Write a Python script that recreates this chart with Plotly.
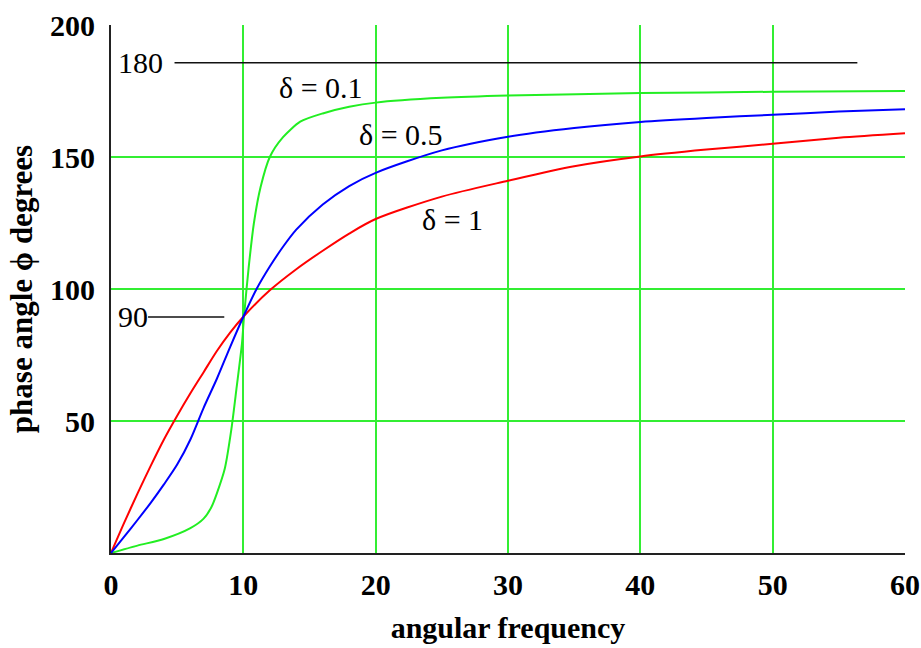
import plotly.graph_objects as go

# ---- data ----
green_x = [0, 2, 4, 6, 7, 7.6, 8.0, 8.6, 9.1, 9.5, 9.9, 10.05, 10.4, 10.8, 11.3, 12.0,
           13.0, 14.3, 16, 18, 20, 25, 30, 40, 50, 60]
green_y = [0, 2.8, 5.3, 9.4, 13, 17.5, 22.6, 32, 47, 63, 79.5, 89.5, 108, 125, 138.5, 150,
           157.5, 163.4, 166.5, 169, 170.6, 172.4, 173.3, 174.2, 174.7, 175.0]

blue_x = [0, 1, 2, 3, 4, 5, 6, 7, 8, 9, 10, 11, 12, 13, 14, 16, 18, 20, 25, 30, 35, 40,
          45, 50, 55, 60]
blue_y = [0, 6.2, 12.5, 19, 26, 33.5, 43, 55, 66, 78, 89.5, 100, 108.5, 116, 122.5, 132,
          139, 144, 152.5, 157.7, 161, 163.3, 164.8, 166, 167.2, 168.1]

red_x = [0, 1, 2, 3, 4, 5, 6, 7, 8, 9, 10, 12, 14, 16, 18, 20, 25, 30, 35, 40, 45, 50,
         55, 60]
red_y = [0, 11.5, 22.5, 33, 43, 52, 60.5, 68.5, 76.5, 83.5, 89.5, 99.5, 107.5, 114.5, 121,
         126.5, 135, 141, 146.5, 150.2, 152.8, 155, 157.3, 159]

ref180_x = [4.8, 56.4]
ref180_y = [185.7, 185.7]
ref90_x = [2.8, 8.56]
ref90_y = [89.4, 89.4]

x_ticks = [0, 10, 20, 30, 40, 50, 60]
y_ticks = [50, 100, 150, 200]

labels = ["180", "90", "δ = 0.1", "δ = 0.5", "δ = 1"]
label_x = [2.2, 1.65, 15.9, 21.9, 25.8]
label_y = [185.7, 89.4, 176.2, 158.7, 126.5]

GRID = "#33ee33"
SERIF = "Liberation Serif, Times New Roman, serif"

fig = go.Figure()
fig.add_trace(go.Scatter(x=ref180_x, y=ref180_y, mode="lines",
                         line=dict(color="#111111", width=1.6), showlegend=False))
fig.add_trace(go.Scatter(x=ref90_x, y=ref90_y, mode="lines",
                         line=dict(color="#111111", width=1.6), showlegend=False))
fig.add_trace(go.Scatter(x=green_x, y=green_y, mode="lines",
                         line=dict(color="#22ee22", width=2, shape="spline", smoothing=0.7),
                         showlegend=False))
fig.add_trace(go.Scatter(x=red_x, y=red_y, mode="lines",
                         line=dict(color="#ff0000", width=2, shape="spline", smoothing=0.8),
                         showlegend=False))
fig.add_trace(go.Scatter(x=blue_x, y=blue_y, mode="lines",
                         line=dict(color="#0000ff", width=2, shape="spline", smoothing=0.8),
                         showlegend=False))

for t, lx, ly in zip(labels, label_x, label_y):
    fig.add_annotation(x=lx, y=ly, xref="x", yref="y", text=t, showarrow=False,
                       font=dict(family=SERIF, size=30, color="black"))

fig.update_layout(
    width=921, height=648,
    margin=dict(l=111, r=16, t=25, b=95, autoexpand=False),
    paper_bgcolor="white", plot_bgcolor="white",
    font=dict(family=SERIF, color="black"),
    xaxis=dict(range=[0, 60], tickvals=x_ticks, ticktext=[str(v) for v in x_ticks],
               automargin=False,
               showgrid=True, gridcolor=GRID, gridwidth=2, zeroline=False,
               showline=True, linecolor="#222222", linewidth=2, ticks="",
               ticklabelstandoff=4,
               tickfont=dict(family=SERIF, size=30, color="black", weight="bold"),
               title=dict(text="<b>angular frequency</b>",
                          font=dict(family=SERIF, size=30, color="black"), standoff=17)),
    yaxis=dict(range=[0, 200], tickvals=y_ticks, ticktext=[str(v) for v in y_ticks],
               automargin=False,
               showgrid=True, gridcolor=GRID, gridwidth=2, zeroline=False,
               showline=True, linecolor="#222222", linewidth=2, ticks="",
               ticklabelstandoff=8,
               tickfont=dict(family=SERIF, size=30, color="black", weight="bold"),
               title=dict(text="<b>phase angle ϕ degrees</b>",
                          font=dict(family=SERIF, size=31, color="black"), standoff=8)),
)

fig.write_html(
    "out.html",
    config={"displayModeBar": False},
    post_script="document.body.style.margin='0';document.body.style.overflow='hidden';",
)
